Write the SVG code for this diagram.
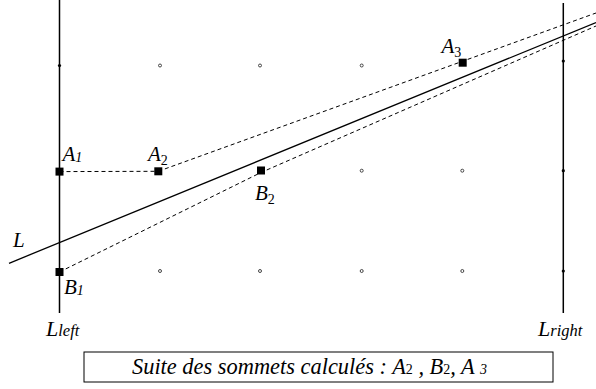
<svg xmlns="http://www.w3.org/2000/svg" width="596" height="389" viewBox="0 0 596 389">
<style>
.lbl{font-family:"Liberation Serif","Times New Roman",serif;font-style:italic;font-size:21px;fill:#000}
.big{font-size:22px}
.sub{font-size:14px}
.subn{font-size:14px;font-style:normal}
.solid{stroke:#000;stroke-width:1.3;fill:none}
.vert{stroke:#000;stroke-width:1.5;fill:none}
.dash{stroke:#000;stroke-width:1;stroke-dasharray:4,3;fill:none}
.dot{fill:#fff;stroke:#333;stroke-width:0.9}
.vdot{fill:#000}
.pt{fill:#000}
.cap{font-family:"Liberation Serif","Times New Roman",serif;font-style:italic;font-size:22.4px;fill:#000}
</style>
<rect width="596" height="389" fill="#fff"/>
<g id="grid">
<circle class="dot" cx="160" cy="65.5" r="1.5"/>
<circle class="dot" cx="260" cy="65.5" r="1.5"/>
<circle class="dot" cx="361.7" cy="65.5" r="1.5"/>
<circle class="dot" cx="361.7" cy="170.7" r="1.5"/>
<circle class="dot" cx="462.3" cy="170.7" r="1.5"/>
<circle class="dot" cx="160" cy="271" r="1.5"/>
<circle class="dot" cx="260" cy="271" r="1.5"/>
<circle class="dot" cx="361.7" cy="271" r="1.5"/>
<circle class="dot" cx="462.3" cy="271" r="1.5"/>
</g>
<g id="Lleft">
<line class="vert" x1="59.5" y1="0" x2="59.5" y2="313"/>
<circle class="vdot" cx="59.5" cy="65.5" r="1.6"/>
<text class="lbl big" x="46" y="336">L<tspan font-size="16.5">left</tspan></text>
</g>
<g id="Lright">
<line class="vert" x1="563.3" y1="3" x2="563.3" y2="313"/>
<circle class="vdot" cx="563.3" cy="61" r="1.6"/>
<circle class="vdot" cx="563.3" cy="170.7" r="1.6"/>
<circle class="vdot" cx="563.3" cy="271" r="1.6"/>
<text class="lbl big" x="538" y="336">L<tspan font-size="16.5">right</tspan></text>
</g>
<g id="connectors">
<line class="solid" x1="9" y1="263.3" x2="596" y2="22.5"/>
<line class="dash" x1="59.5" y1="171.6" x2="158.3" y2="171.3"/>
<line class="dash" x1="158.3" y1="171.3" x2="596" y2="13"/>
<polyline class="dash" points="59.5,272 261,172.5 596,26"/>
</g>
<g id="L">
<text class="lbl" x="13" y="247">L</text>
</g>
<g id="A1">
<rect class="pt" x="55.5" y="167.6" width="8" height="8"/>
<text class="lbl" x="62.5" y="161">A<tspan class="sub" dy="1">1</tspan></text>
</g>
<g id="A2">
<rect class="pt" x="154.3" y="167.3" width="8" height="8"/>
<text class="lbl" x="148" y="161">A<tspan class="subn" dy="4">2</tspan></text>
</g>
<g id="B1">
<rect class="pt" x="55.5" y="268" width="8" height="8"/>
<text class="lbl" x="64" y="294">B<tspan class="sub" dy="1">1</tspan></text>
</g>
<g id="B2">
<rect class="pt" x="257" y="166.5" width="8" height="8"/>
<text class="lbl" x="255" y="200">B<tspan class="subn" dy="4">2</tspan></text>
</g>
<g id="A3">
<rect class="pt" x="458.7" y="58.7" width="8" height="8"/>
<text class="lbl" x="441.5" y="52.5">A<tspan class="subn" dy="4">3</tspan></text>
</g>
<g id="caption">
<rect x="84" y="352" width="469" height="30" fill="#fff" stroke="#000" stroke-width="1"/>
<text class="cap" x="132" y="374">Suite des sommets calculés : A<tspan class="subn" font-size="16">2</tspan> , B<tspan class="subn" font-size="16">2</tspan>, A <tspan class="sub" font-size="16">3</tspan></text>
</g>
</svg>
